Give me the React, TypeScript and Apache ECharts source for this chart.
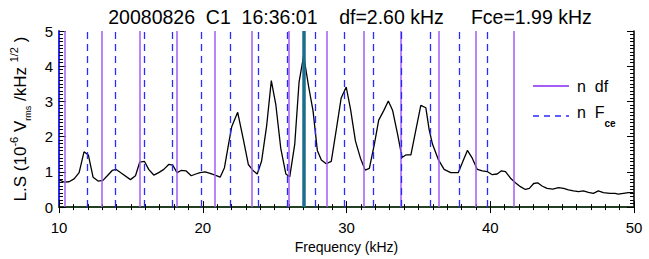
import React, { useEffect, useRef } from "react";
import * as echarts from "echarts";

const titleText = "20080826  C1  16:36:01    df=2.60 kHz     Fce=1.99 kHz";

const freqs = [
  10.02, 10.36, 10.70, 11.05, 11.40, 11.74, 12.04, 12.37, 12.72, 13.06, 13.36, 13.70, 13.98, 14.35, 14.97,
  15.32, 15.62, 15.94, 16.24, 16.59, 16.94, 17.29, 17.63, 17.91, 18.21, 18.50, 18.83, 19.20, 19.52, 19.82,
  20.17, 20.51, 20.86, 21.21, 21.51, 21.78, 22.02, 22.43, 22.82, 23.17, 23.52, 23.79, 24.09, 24.44, 24.77,
  25.08, 25.43, 25.78, 26.05, 26.40, 26.70, 27.02, 27.37, 27.67, 27.97, 28.25, 28.59, 28.94, 29.29, 29.63,
  29.98, 30.28, 30.62, 30.97, 31.30, 31.59, 31.94, 32.24, 32.59, 32.91, 33.21, 33.56, 33.86, 34.13, 34.48,
  34.83, 35.17, 35.52, 35.75, 35.98, 36.40, 36.79, 37.25, 37.78, 38.10, 38.41, 38.75, 39.10, 39.45, 39.79,
  40.14, 40.48, 40.78, 41.06, 41.41, 41.75, 42.10, 42.44, 42.72, 43.02, 43.30, 43.60, 43.95, 44.35, 44.75,
  45.10, 45.44, 45.79, 46.14, 46.48, 46.83, 47.17, 47.52, 47.87, 48.33, 48.68, 48.91, 49.26, 49.61, 49.95,
];

const lsValues = [
  0.77, 0.71, 0.72, 0.80, 0.98, 1.57, 1.48, 0.85, 0.74, 0.76, 0.89, 1.04, 1.07, 0.96, 0.78,
  0.89, 1.28, 1.30, 1.07, 0.91, 0.98, 1.07, 1.21, 1.19, 0.98, 1.04, 1.03, 0.89, 0.94, 0.98,
  1.00, 0.96, 0.91, 0.85, 1.12, 1.75, 2.29, 2.69, 1.93, 1.21, 1.03, 0.94, 1.30, 2.29, 3.59,
  2.92, 1.66, 0.94, 0.86, 1.79, 3.55, 4.30, 3.41, 2.74, 1.61, 1.34, 1.23, 1.30, 2.20, 3.10,
  3.41, 2.78, 1.88, 1.39, 1.05, 1.10, 1.79, 2.47, 2.74, 3.01, 2.74, 2.06, 1.41, 1.48, 1.48,
  2.20, 2.89, 2.82, 2.20, 1.79, 1.34, 1.07, 0.98, 0.98, 1.30, 1.61, 1.39, 1.07, 1.03, 1.01,
  0.92, 0.94, 1.03, 1.01, 0.82, 0.69, 0.58, 0.50, 0.53, 0.67, 0.69, 0.60, 0.53, 0.51, 0.55,
  0.53, 0.49, 0.46, 0.44, 0.46, 0.42, 0.39, 0.46, 0.41, 0.39, 0.39, 0.37, 0.39, 0.41, 0.41,
];

const dfLines = [10.4, 13.0, 15.6, 18.2, 20.8, 23.4, 26.0, 28.6, 31.2, 33.8, 36.4, 39.0, 41.6];
const fceLines = [11.94, 13.93, 15.92, 17.91, 19.9, 21.89, 23.88, 25.87, 27.86, 29.85, 31.84, 33.83, 35.82, 37.81, 39.8];
const peakFreq = [27.02];

const xTicks = [10, 50, 10];
const yTicks = [0, 5, 1];

const FONT = "Liberation Sans";
const PURPLE = "#a35cf5";
const BLUE = "#2a2aff";
const TEAL = "#1b6d8e";
const GREEN = "#2a9a2a";

export default function App() {
  const ref = useRef<HTMLDivElement>(null);
  useEffect(() => {
    if (!ref.current) return;
    const chart = echarts.init(ref.current, null, { renderer: "svg" });
    const lineData = freqs.map((f, i) => [f, lsValues[i]]);
    const commonX = {
      type: "value",
      min: xTicks[0],
      max: xTicks[1],
      interval: xTicks[2],
      splitLine: { show: false },
      minorTick: { show: true, splitNumber: 10, length: 3, lineStyle: { color: "#000", width: 1 } },
      axisTick: { show: true, inside: true, length: 6, lineStyle: { color: "#000", width: 1 } },
    };
    const commonY = {
      type: "value",
      min: yTicks[0],
      max: yTicks[1],
      interval: yTicks[2],
      splitLine: { show: false },
      minorTick: { show: true, splitNumber: 10, length: 4, lineStyle: { color: "#000", width: 1 } },
      axisTick: { show: true, inside: true, length: 7, lineStyle: { color: "#000", width: 1 } },
    };
    chart.setOption({
      animation: false,
      title: {
        text: titleText,
        left: 345,
        textAlign: "center",
        top: 2,
        textStyle: { fontFamily: FONT, fontSize: 19.5, fontWeight: "normal", color: "#000" },
      },
      grid: { left: 56, right: 15, top: 31, bottom: 43 },
      xAxis: [
        {
          ...commonX,
          position: "bottom",
          name: "Frequency (kHz)",
          nameLocation: "middle",
          nameGap: 32,
          nameTextStyle: { fontFamily: FONT, fontSize: 14, color: "#000" },
          axisLine: { show: true, lineStyle: { color: GREEN, width: 2 } },
          axisLabel: { fontFamily: FONT, fontSize: 15, color: "#000", margin: 13 },
        },
        {
          ...commonX,
          position: "top",
          axisLine: { show: true, lineStyle: { color: "#222", width: 1.5 } },
          axisLabel: { show: false },
        },
      ],
      yAxis: [
        {
          ...commonY,
          position: "left",
          name:
            "{n|L.S (10}{sup|-6}{n| V}{sub|rms}{n| /kHz }{sup|1/2}{n| )}",
          nameLocation: "middle",
          nameGap: 27,
          nameRotate: 90,
          nameTextStyle: {
            fontFamily: FONT,
            color: "#000",
            rich: {
              n: { fontFamily: FONT, fontSize: 17, color: "#000", lineHeight: 24 },
              sup: { fontFamily: FONT, fontSize: 11, color: "#000", verticalAlign: "top", lineHeight: 24 },
              sub: { fontFamily: FONT, fontSize: 9, color: "#000", verticalAlign: "bottom", lineHeight: 24 },
            },
          },
          axisLine: { show: true, lineStyle: { color: BLUE, width: 2 } },
          axisLabel: { fontFamily: FONT, fontSize: 15, color: "#000", margin: 6 },
        },
        {
          ...commonY,
          position: "right",
          axisLine: { show: true, lineStyle: { color: "#000", width: 1.5 } },
          axisLabel: { show: false },
        },
      ],
      series: [
        {
          type: "line",
          data: [],
          silent: true,
          markLine: {
            silent: true,
            symbol: ["none", "none"],
            label: { show: false },
            lineStyle: { color: PURPLE, type: "solid", width: 1.5 },
            data: dfLines.map((v) => ({ xAxis: v })),
          },
          z: 1,
        },
        {
          type: "line",
          data: [],
          silent: true,
          markLine: {
            silent: true,
            symbol: ["none", "none"],
            label: { show: false },
            lineStyle: { color: BLUE, type: [7, 5], width: 1.3 },
            data: fceLines.map((v) => ({ xAxis: v })),
          },
          z: 1,
        },
        {
          type: "line",
          data: lineData,
          showSymbol: false,
          symbol: "none",
          lineStyle: { color: "#000", width: 1.3 },
          z: 3,
        },
        {
          type: "line",
          data: [],
          silent: true,
          markLine: {
            silent: true,
            symbol: ["none", "none"],
            label: { show: false },
            lineStyle: { color: TEAL, type: "solid", width: 3.5 },
            data: peakFreq.map((v) => ({ xAxis: v })),
          },
          z: 5,
        },
      ],
      graphic: [
        {
          type: "line",
          shape: { x1: 533, y1: 86, x2: 569, y2: 86 },
          style: { stroke: PURPLE, lineWidth: 2 },
        },
        {
          type: "text",
          x: 577,
          y: 86,
          style: { text: "n  df", fontFamily: FONT, fontSize: 16, fill: "#000", verticalAlign: "middle" },
        },
        {
          type: "line",
          shape: { x1: 533, y1: 116, x2: 569, y2: 116 },
          style: { stroke: BLUE, lineWidth: 1.5, lineDash: [6, 5] },
        },
        {
          type: "text",
          x: 577,
          y: 116,
          style: {
            text: "{a|n  F}{b|ce}",
            verticalAlign: "middle",
            rich: {
              a: { fontFamily: FONT, fontSize: 16, fill: "#000", lineHeight: 24, verticalAlign: "top" },
              b: { fontFamily: FONT, fontSize: 10, fontWeight: "bold", fill: "#000", lineHeight: 24, verticalAlign: "bottom" },
            },
          },
        },
      ],
    });
    return () => chart.dispose();
  }, []);
  return <div ref={ref} style={{ width: 649, height: 259, position: "absolute", left: 0, top: 0 }} />;
}
